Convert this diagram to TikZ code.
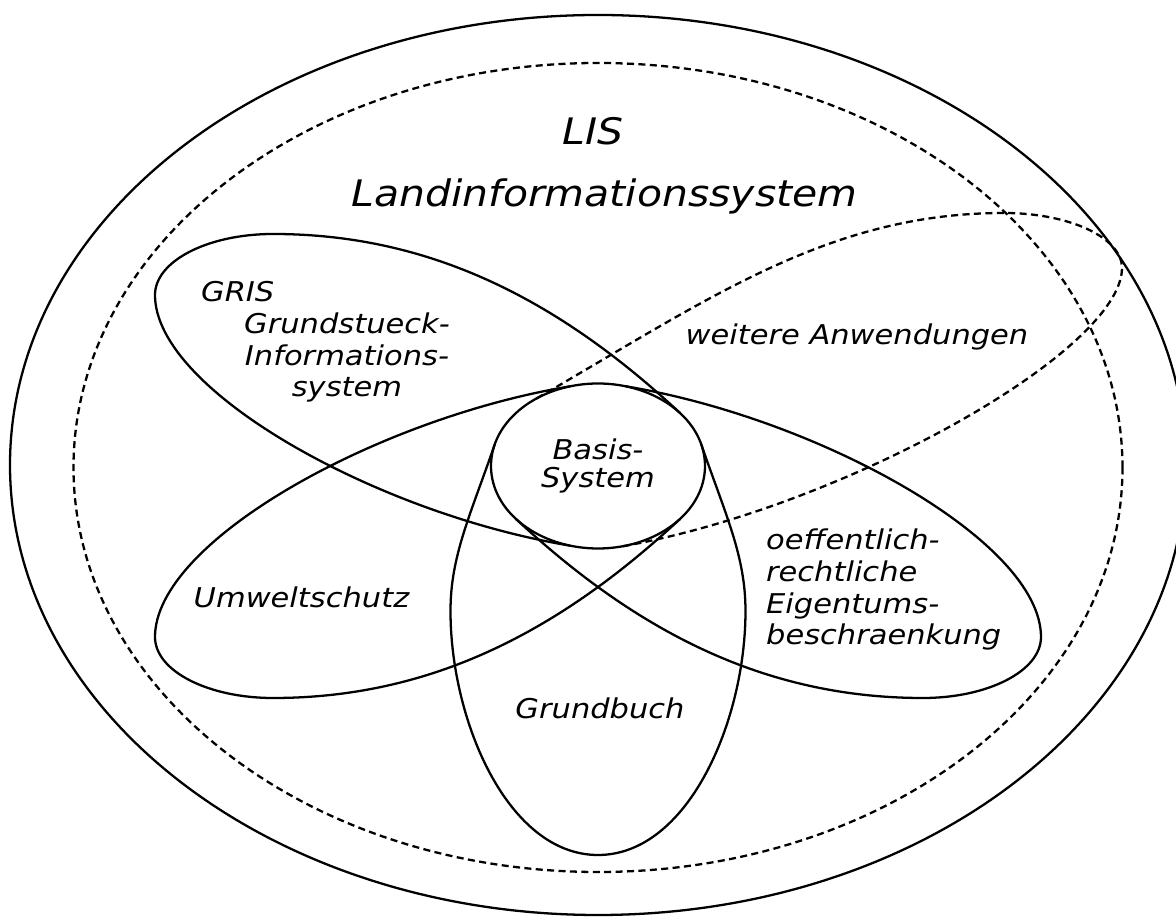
\documentclass[tikz,border=0pt]{standalone}
\usepackage{fontspec}
\setmainfont{DejaVu Sans}[FakeStretch = 1.12]
\usetikzlibrary{shapes.geometric}

\begin{document}
\begin{tikzpicture}[line width = 1.3pt,
    rim/.style = {dash pattern = on 4pt off 2.5pt},
    txt/.style = {inner sep = 0, anchor = base, font = \itshape\fontsize{15.5}{18.2}\selectfont},
    bigtxt/.style = {inner sep = 0, anchor = base, font = \itshape\fontsize{20.8}{25}\selectfont}]
      \useasboundingbox (-11.96, -9.02) rectangle (11.56, 9.32);
      \clip (-11.96, -9.02) rectangle (11.56, 9.32);
      \draw (0, 0.02) ellipse [x radius = 11.76, y radius = 9.0];
      \draw [rim] (0, -0.03) ellipse [x radius = 10.49, y radius = 8.09];
      \node [bigtxt] (lis) at (-0.1, 6.42) {LIS};
      \node [bigtxt] (land) at (0.13, 5.18) {Landinformationssystem};
      \node [draw, ellipse, minimum width = 4.28cm, minimum height = 3.3cm, inner sep = 0, align = center,
        font = \itshape\fontsize{15.5}{15.9}\selectfont] (basis) at (0, 0) {Basis-\\System};
      \foreach \sx/\sy in {1/1, 1/-1, -1/-1}{
        \begin{scope}[xscale = \sx, yscale = \sy]
          \draw (40 : 2.14cm and 1.65cm) .. controls +(137 : 3.5) and +(3, 0) .. (-6.5, 4.64)
            .. controls +(-1.3, 0) and +(0, 0.68) .. (-8.86, 3.42)
            .. controls +(0, -1.92) and +(170.6 : 3.9) .. (255 : 2.14cm and 1.65cm);
        \end{scope}
      }
      \draw (165 : 2.14cm and 1.65cm) .. controls +(251 : 1.5) and +(0, 1.1) .. (-2.95, -2.9)
        .. controls +(0, -2.2) and +(-1.8, 0) .. (0, -7.78)
        .. controls +(1.8, 0) and +(0, -2.2) .. (2.95, -2.9)
        .. controls +(0, 1.1) and +(289 : 1.5) .. (15 : 2.14cm and 1.65cm);
      \draw [rim] (125 : 2.14cm and 1.65cm) .. controls +(30 : 4) and +(-3.5, 0) .. (8.12, 5.06)
        .. controls +(1.3, 0) and +(0, 0.61) .. (10.48, 3.96)
        .. controls +(0, -1.66) and +(10 : 4.5) .. (-77 : 2.14cm and 1.65cm);
      \node [txt, anchor = base west] (gris) at (-7.96, 3.28) {GRIS};
      \node [txt, align = center] (grisname) at (-5.02, 1.38) {Grundstueck-\\Informations-\\system};
      \node [txt] (weitere) at (5.18, 2.42) {weitere Anwendungen};
      \node [txt, anchor = base west, align = left] (oeff) at (3.34, -3.58) {oeffentlich-\\rechtliche\\Eigentums-\\beschraenkung};
      \node [txt] (umwelt) at (-5.93, -2.84) {Umweltschutz};
      \node [txt] (grundbuch) at (0.04, -5.06) {Grundbuch};
\end{tikzpicture}
\end{document}
